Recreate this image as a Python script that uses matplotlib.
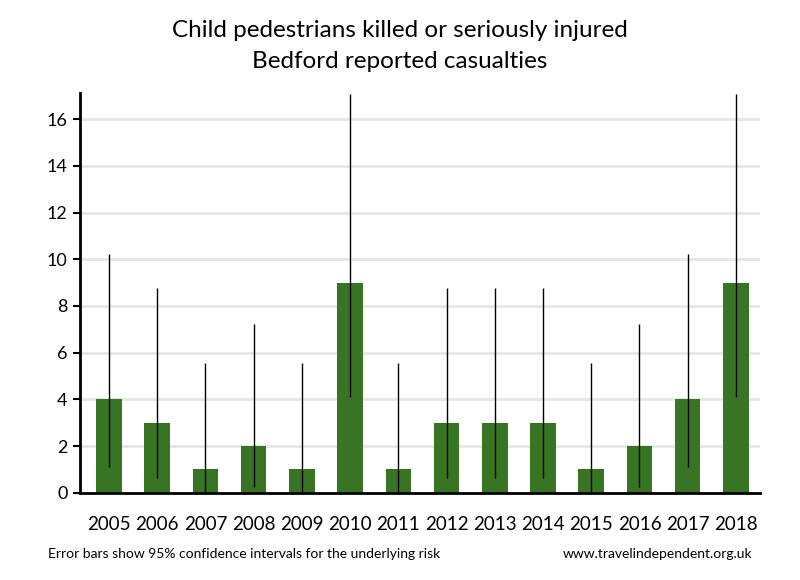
import matplotlib
matplotlib.use('Agg')
import matplotlib.pyplot as plt

plt.rcParams['font.family'] = ['Lato', 'DejaVu Sans']

years = ['2005', '2006', '2007', '2008', '2009', '2010', '2011',
         '2012', '2013', '2014', '2015', '2016', '2017', '2018']
casualties = [4, 3, 1, 2, 1, 9, 1, 3, 3, 3, 1, 2, 4, 9]
# 95% confidence interval bounds
ci_low = [1.09, 0.62, 0.03, 0.24, 0.03, 4.12, 0.03, 0.62, 0.62, 0.62, 0.03, 0.24, 1.09, 4.12]
ci_high = [10.24, 8.77, 5.57, 7.22, 5.57, 17.08, 5.57, 8.77, 8.77, 8.77, 5.57, 7.22, 10.24, 17.08]

fig = plt.figure(figsize=(8, 5.8), dpi=100)
ax = fig.add_axes([0.1, 0.1505, 0.85, 0.6892])

x = list(range(len(years)))
ax.bar(x, casualties, width=0.53, color='#377524', zorder=2)
ax.vlines(x, ci_low, ci_high, color='black', linewidth=1, zorder=3)

ax.set_xlim(-0.6, 13.5)
ax.set_ylim(0, 17.12)
ax.set_yticks(range(0, 17, 2))
ax.yaxis.grid(True, color='#e6e6e6', linewidth=2, zorder=0)
ax.set_axisbelow(True)

ax.set_xticks(x)
ax.set_xticklabels(years, fontsize=13.5)
ax.tick_params(axis='x', length=0, pad=17)
ax.tick_params(axis='y', length=5, width=1.5, labelsize=13, pad=4)

for s in ['top', 'right']:
    ax.spines[s].set_visible(False)
ax.spines['left'].set_linewidth(2)
ax.spines['bottom'].set_linewidth(2)

fig.text(0.5, 0.947, 'Child pedestrians killed or seriously injured',
         ha='center', va='center', fontsize=17.5)
fig.text(0.5, 0.894, 'Bedford reported casualties',
         ha='center', va='center', fontsize=17.5)
fig.text(0.06, 0.044, 'Error bars show 95% confidence intervals for the underlying risk',
         ha='left', va='center', fontsize=10)
fig.text(0.94, 0.044, 'www.travelindependent.org.uk',
         ha='right', va='center', fontsize=10)

fig.savefig('out.png', dpi=100)
